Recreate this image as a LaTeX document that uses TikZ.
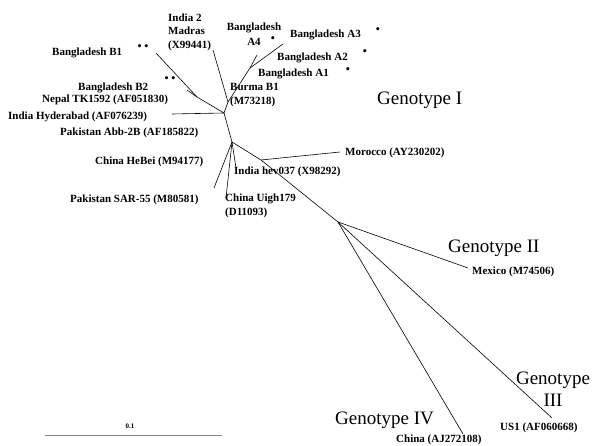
\documentclass[tikz,border=0pt]{standalone}
\usepackage{fontspec}
\setmainfont{Liberation Serif}
\usetikzlibrary{positioning}
\tikzset{branch/.style = {line width=0.6pt},
         taxon/.style = {font=\fontsize{11}{13.5}\selectfont\bfseries,
                         inner sep=0pt, anchor=west, align=left},
         bullets/.style = {font=\fontsize{13}{14}\selectfont, inner sep=0pt},
         genotype/.style = {font=\fontsize{19}{22}\selectfont,
                            inner sep=0pt, anchor=west},
         scalebar/.style = {line width=0.5pt, gray}}

\begin{document}
\begin{tikzpicture}[x=1pt, y=-1pt]
      \useasboundingbox (0, 0) rectangle (595, 446);

      % inner nodes
      \coordinate (burma) at (228, 102);
      \coordinate (bangA) at (250, 68);
      \coordinate (hubI) at (224, 113);
      \coordinate (bangB) at (197, 97);
      \coordinate (hubC) at (232, 142);
      \coordinate (moro) at (261, 160);
      \coordinate (hubR) at (338, 222);

      % tips
      \coordinate (tIndia2) at (213, 50);
      \coordinate (tA) at (283, 44);
      \coordinate (tA4) at (257, 55);
      \coordinate (tB1) at (156, 53);
      \coordinate (tB2) at (187, 90);
      \coordinate (tHyd) at (172, 114);
      \coordinate (tSAR) at (214, 188);
      \coordinate (tUigh) at (226, 198);
      \coordinate (tHev) at (236, 168);
      \coordinate (tMor) at (340, 152);
      \coordinate (tMex) at (468, 268);
      \coordinate (tIV) at (463, 434);
      \coordinate (tIII) at (552, 418);

      \draw [branch] (tIndia2) -- (burma) -- (hubI) -- (hubC) -- (moro) -- (hubR);
      \draw [branch] (burma) -- (bangA) -- (tA);
      \draw [branch] (bangA) -- (tA4);
      \draw [branch] (hubI) -- (bangB) -- (tB1);
      \draw [branch] (bangB) -- (tB2);
      \draw [branch] (hubI) -- (tHyd);
      \draw [branch] (hubC) -- (tSAR);
      \draw [branch] (hubC) -- (tUigh);
      \draw [branch] (hubC) -- (tHev);
      \draw [branch] (moro) -- (tMor);
      \draw [branch] (hubR) -- (tMex);
      \draw [branch] (hubR) -- (tIV);
      \draw [branch] (hubR) -- (tIII);

      % taxa
      \node [taxon] (india2) at (168, 32) {India 2\\Madras\\(X99441)};
      \node [taxon, anchor=center, align=center] (bangA4) at (254, 34) {Bangladesh\\[2pt]A4};
      \node [bullets] (dA4) at (273, 40) {•};
      \node [taxon] (bangA3) at (290, 35) {Bangladesh A3};
      \node [bullets] (dA3) at (378, 31) {•};
      \node [taxon] (bangA2) at (277, 58) {Bangladesh A2};
      \node [bullets] (dA2) at (365, 53) {•};
      \node [taxon] (bangA1) at (258, 74) {Bangladesh A1};
      \node [bullets] (dA1) at (348, 71) {•};
      \node [taxon] (burmaB1) at (230, 95) {Burma B1\\(M73218)};
      \node [taxon] (bangB1) at (52, 53) {Bangladesh B1};
      \node [bullets] (dB1) at (143, 48) {•\,•};
      \node [taxon] (bangB2) at (78, 88) {Bangladesh B2};
      \node [bullets] (dB2) at (170, 80) {•\,•};
      \node [taxon] (nepal) at (42, 100) {Nepal TK1592 (AF051830)};
      \node [taxon] (hyder) at (8, 117) {India Hyderabad (AF076239)};
      \node [taxon] (abb) at (60, 133) {Pakistan Abb-2B (AF185822)};
      \node [taxon] (hebei) at (95, 162) {China HeBei (M94177)};
      \node [taxon] (sar) at (70, 200) {Pakistan SAR-55 (M80581)};
      \node [taxon] (uigh) at (225, 206) {China Uigh179\\(D11093)};
      \node [taxon] (hev) at (234, 172) {India hev037 (X98292)};
      \node [taxon] (mor) at (345, 153) {Morocco (AY230202)};
      \node [taxon] (mex) at (472, 272) {Mexico (M74506)};
      \node [taxon] (us1) at (500, 428) {US1 (AF060668)};
      \node [taxon] (china) at (396, 440) {China (AJ272108)};

      % genotypes
      \node [genotype] (genI) at (377, 100) {Genotype I};
      \node [genotype] (genII) at (448, 248) {Genotype II};
      \node [genotype, anchor=center, align=center] (genIII) at (553, 389) {Genotype\\III};
      \node [genotype] (genIV) at (335, 420) {Genotype IV};

      % scale bar
      \coordinate (sbL) at (45, 435);
      \coordinate (sbR) at (222, 435);
      \draw [scalebar] (sbL) -- (sbR);
      \node [font=\scriptsize\bfseries, inner sep=0pt] (sbText) at (130, 426) {0.1};
\end{tikzpicture}
\end{document}
